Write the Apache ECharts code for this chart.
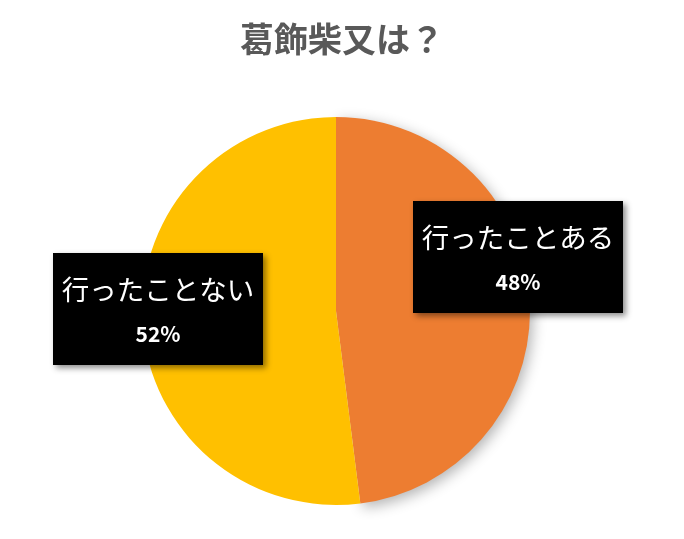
<!DOCTYPE html>
<html>
<head>
<meta charset="utf-8">
<script src="https://cdn.jsdelivr.net/npm/echarts@6/dist/echarts.min.js"></script>
<style>
html,body{margin:0;padding:0;background:#fff;}
#main{width:684px;height:539px;}
</style>
</head>
<body>
<div id="main"></div>
<script>
const titleText = '葛飾柴又は？';
const categories = ['行ったことある', '行ったことない'];
const values = [48, 52];
const colors = ['#ED7D31', '#FFC000'];
const labelCenters = [[518, 257], [158, 309]];

const chart = echarts.init(document.getElementById('main'));
const font = '"Noto Sans CJK JP", "Noto Sans", sans-serif';

const shadowStyles = [
  { shadowBlur: 14, shadowColor: 'rgba(0,0,0,0.3)', shadowOffsetX: 3, shadowOffsetY: 4 },
  { shadowBlur: 0, shadowColor: 'rgba(0,0,0,0)' }
];

chart.setOption({
  animation: false,
  backgroundColor: '#ffffff',
  title: {
    text: titleText,
    left: 'center',
    top: 17,
    textStyle: { fontFamily: font, fontSize: 34, fontWeight: 'bold', color: '#595959' }
  },
  series: [{
    type: 'pie',
    center: [336, 311],
    radius: 194,
    startAngle: 90,
    clockwise: true,
    data: categories.map((c, i) => ({
      name: c, value: values[i],
      itemStyle: Object.assign({ color: colors[i] }, shadowStyles[i])
    })),
    label: {
      show: true,
      position: 'inside',
      formatter: p => '{n|' + p.name + '}\n{p|' + Math.round(p.percent) + '%}',
      backgroundColor: '#000000',
      padding: [16, 8, 8, 8],
      width: 194,
      align: 'center',
      shadowBlur: 6,
      shadowColor: 'rgba(0,0,0,0.45)',
      shadowOffsetX: 3,
      shadowOffsetY: 3,
      rich: {
        n: { fontFamily: font, fontSize: 27.5, color: '#ffffff', lineHeight: 42, align: 'center' },
        p: { fontFamily: font, fontSize: 21, fontWeight: 'bold', color: '#ffffff', lineHeight: 46, align: 'center' }
      }
    },
    labelLine: { show: false },
    labelLayout: function (params) {
      const c = labelCenters[params.dataIndex];
      return { x: c[0], y: c[1], align: 'center', verticalAlign: 'middle' };
    }
  }]
});
</script>
</body>
</html>
